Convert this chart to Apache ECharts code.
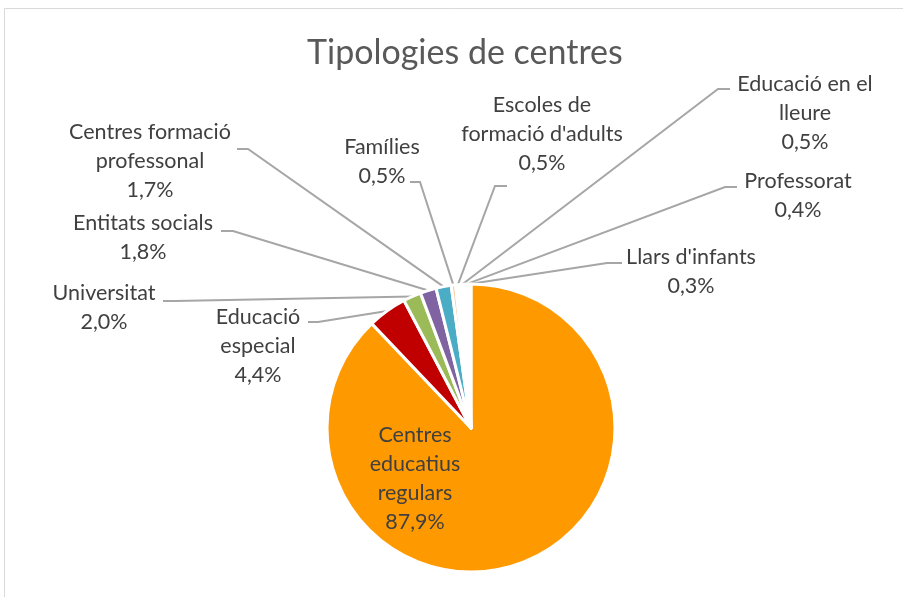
<!DOCTYPE html>
<html>
<head>
<meta charset="utf-8">
<script src="https://cdn.jsdelivr.net/npm/echarts@6/dist/echarts.min.js"></script>
<style>
  html, body { margin: 0; padding: 0; background: #fff; }
  #main { width: 903px; height: 597px; }
</style>
</head>
<body>
<div id="main"></div>
<script>
// data
const categories = ['Centres educatius regulars', 'Educació especial', 'Universitat', 'Entitats socials',
  'Centres formació professonal', 'Famílies', "Escoles de formació d'adults", 'Educació en el lleure',
  'Professorat', "Llars d'infants"]
const shares = [87.9, 4.4, 2.0, 1.8, 1.7, 0.5, 0.5, 0.5, 0.4, 0.3]
// how the label text wraps in the original
const wrappedNames = ['Centres\neducatius\nregulars', 'Educació\nespecial', 'Universitat', 'Entitats socials',
  'Centres formació\nprofessonal', 'Famílies', "Escoles de\nformació d'adults", 'Educació en el\nlleure',
  'Professorat', "Llars d'infants"]
const sliceColors = ['#FF9900', '#C00000', '#9BBB59', '#8064A2', '#4BACC6',
  '#FAD2AE', '#FFFFFF', '#FFFFFF', '#FFFFFF', '#FFFFFF']

// label placement (centre of the text block) and leader line bend / end
const labelCenter = [[415, 479], [258, 346], [104, 308], [143, 238], [150, 161],
  [382, 162], [542, 134], [805, 113], [798, 196], [691, 272]]
const lineBend = [null,
  [[318, 322], [308, 322]],
  [[175, 301], [163, 301]],
  [[233, 231], [221, 231]],
  [[248, 149], [237, 149]],
  [[420, 182], [410, 182]],
  [[495, 186], [507, 186]],
  [[718, 89], [730, 89]],
  [[725, 187], [737, 187]],
  [[607, 263], [622, 263]]]

const chart = echarts.init(document.getElementById('main'))

const pieData = categories.map((name, i) => {
  const item = { name: name, value: shares[i], itemStyle: { color: sliceColors[i] } }
  if (i === 0) item.labelLine = { show: false }
  return item
})

chart.setOption({
  animation: false,
  title: {
    text: 'Tipologies de centres',
    left: 302,
    top: 31,
    textStyle: { fontFamily: 'Lato', fontSize: 34, fontWeight: 'normal', color: '#595959' },
  },
  graphic: [
    {
      type: 'rect',
      shape: { x: 4.5, y: 8.5, width: 1000, height: 1000 },
      style: { fill: 'none', stroke: '#D9D9D9', lineWidth: 1 },
      silent: true,
    },
  ],
  series: [
    {
      type: 'pie',
      center: [471, 428],
      radius: 144,
      startAngle: 90,
      clockwise: true,
      avoidLabelOverlap: false,
      minShowLabelAngle: 0,
      itemStyle: { borderColor: '#fff', borderWidth: 3 },
      label: {
        show: true,
        position: 'outside',
        color: '#404040',
        fontFamily: 'Lato',
        fontSize: 21.5,
        lineHeight: 29,
        align: 'center',
        formatter: (p) => wrappedNames[p.dataIndex] + '\n' + p.value.toFixed(1).replace('.', ',') + '%',
      },
      labelLine: {
        show: true,
        lineStyle: { color: '#A6A6A6', width: 2 },
      },
      labelLayout: function (params) {
        const i = params.dataIndex
        const c = labelCenter[i]
        const res = { x: c[0], y: c[1], align: 'center', verticalAlign: 'middle' }
        if (lineBend[i] && params.labelLinePoints) {
          res.labelLinePoints = [params.labelLinePoints[0], lineBend[i][0], lineBend[i][1]]
        }
        return res
      },
      data: pieData,
    },
  ],
})
</script>
</body>
</html>
